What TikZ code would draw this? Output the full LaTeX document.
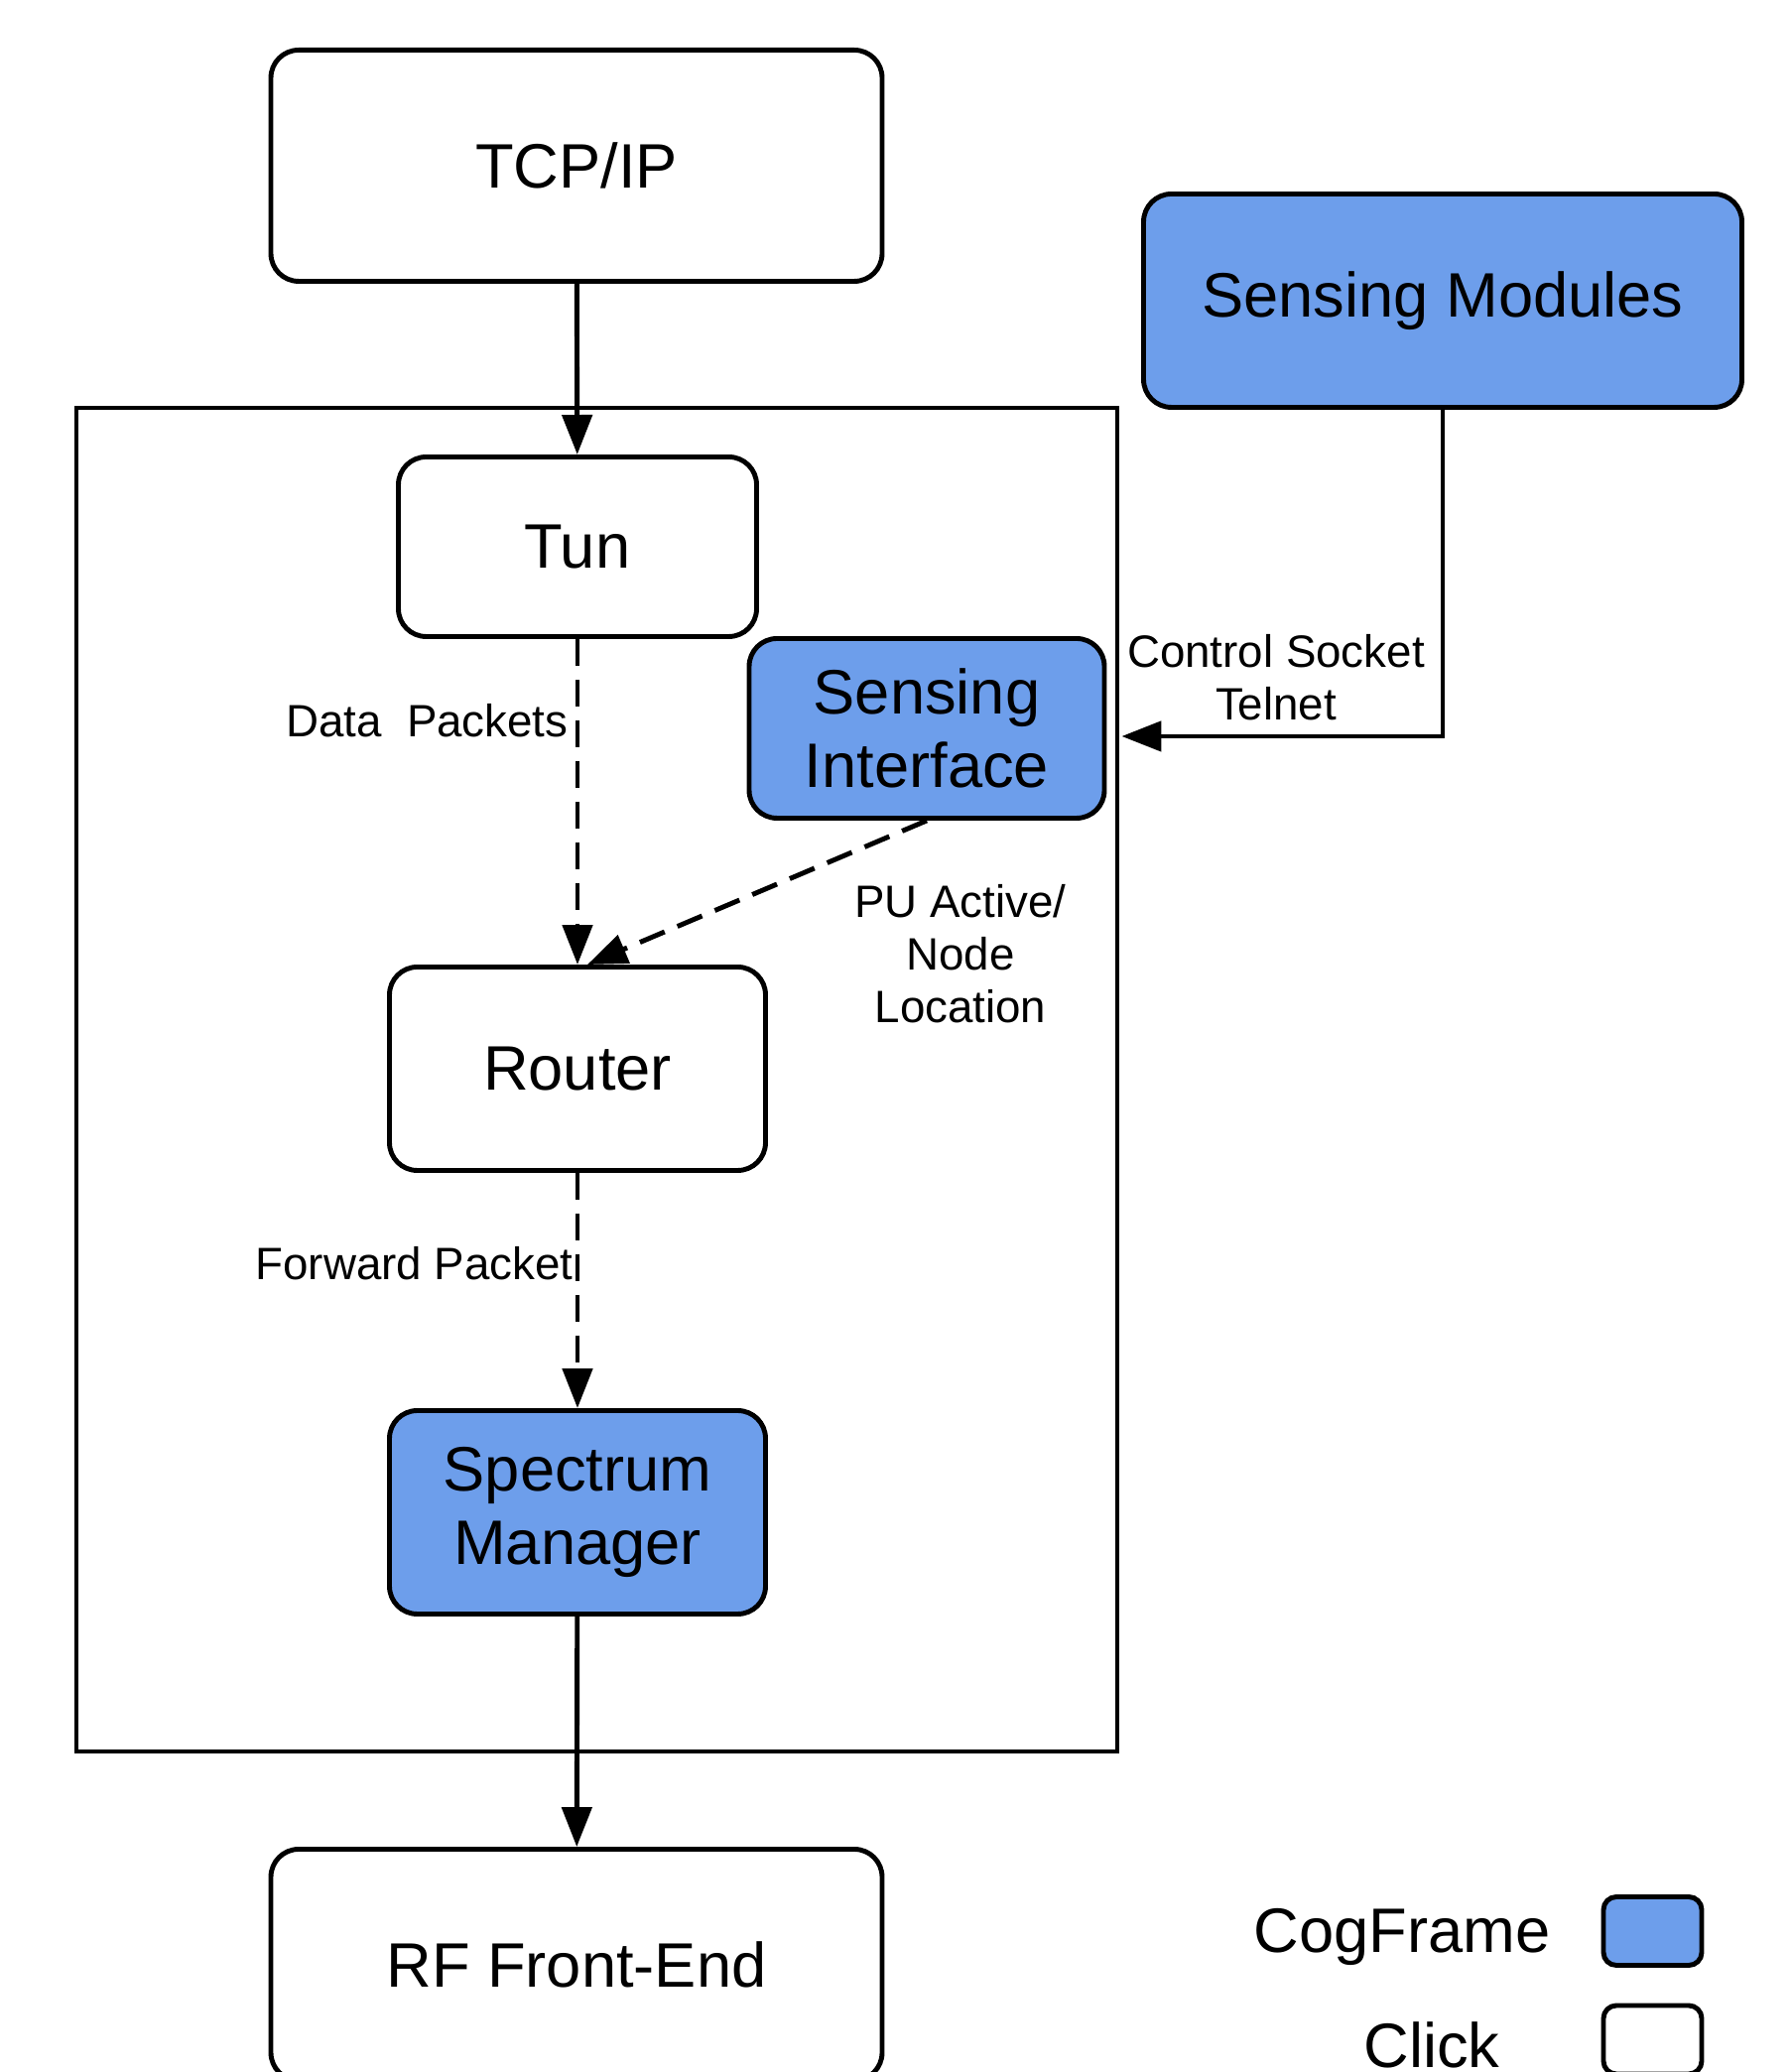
\documentclass[tikz,border=0pt]{standalone}
\usepackage{fontspec}
\setmainfont{Liberation Sans}
\usetikzlibrary{arrows.meta}
\definecolor{cogblue}{RGB}{109,158,235}

\begin{document}
\begin{tikzpicture}[
                clickbox/.style={draw, line width=1.4pt, rounded corners=0.28cm, fill=white, inner sep=0pt, align=center, font=\fontsize{18}{21}\selectfont},
                cogbox/.style={clickbox, fill=cogblue},
                keybox/.style={draw, line width=1.4pt, rounded corners=0.13cm, minimum width=0.99cm, minimum height=0.69cm},
                lbl/.style={align=center, font=\fontsize{13}{15}\selectfont},
                flow/.style={line width=1.4pt, -{Triangle[length=0.4cm,width=0.3cm]}},
                dataflow/.style={flow, dash pattern=on 0.27cm off 0.14cm}]
                \useasboundingbox (0,0) rectangle (18.04,20.88);

                % click router frame
                \node[draw, line width=1.3pt, minimum width=10.49cm, minimum height=13.54cm] (clk) at (6.015,10.0) {};

                \node[clickbox, minimum width=6.16cm, minimum height=2.33cm] (tcp) at (5.81,19.21) {TCP/IP};
                \node[cogbox, minimum width=6.03cm, minimum height=2.15cm] (sm) at (14.54,17.85) {Sensing Modules};
                \node[clickbox, minimum width=3.61cm, minimum height=1.81cm] (tun) at (5.82,15.37) {Tun};
                \node[cogbox, minimum width=3.58cm, minimum height=1.81cm] (si) at (9.34,13.54) {Sensing\\Interface};
                \node[clickbox, minimum width=3.79cm, minimum height=2.05cm] (rt) at (5.82,10.11) {Router};
                \node[cogbox, minimum width=3.79cm, minimum height=2.05cm] (spm) at (5.82,5.64) {Spectrum\\Manager};
                \node[clickbox, minimum width=6.16cm, minimum height=2.33cm] (rf) at (5.81,1.08) {RF Front-End};

                \draw[flow] (tcp) -- (tun);
                \draw[dataflow] (tun) -- (rt);
                \draw[dataflow] (si.south) -- ([xshift=0.1cm]rt.north);
                \draw[dataflow] (rt) -- (spm);
                \draw[flow] (spm) -- (rf);
                \draw[flow] (sm.south) |- ([xshift=0.15cm,yshift=-0.08cm]si.east);

                \node[lbl, anchor=east] (dp) at (5.85,13.62) {Data~ Packets};
                \node[lbl] (cs) at (12.86,14.05) {Control Socket\\Telnet};
                \node[lbl] (pu) at (9.68,11.27) {PU Active/\\Node\\Location};
                \node[lbl, anchor=east] (fp) at (5.9,8.15) {Forward Packet};

                % legend
                \node[anchor=east, font=\fontsize{18}{21}\selectfont] (cogtxt) at (15.75,1.36) {CogFrame};
                \node[keybox, fill=cogblue] (cogkey) at (16.655,1.42) {};
                \node[anchor=east, font=\fontsize{18}{21}\selectfont] (clicktxt) at (15.24,0.27) {Click};
                \node[keybox, fill=white] (clickkey) at (16.655,0.325) {};
\end{tikzpicture}
\end{document}
